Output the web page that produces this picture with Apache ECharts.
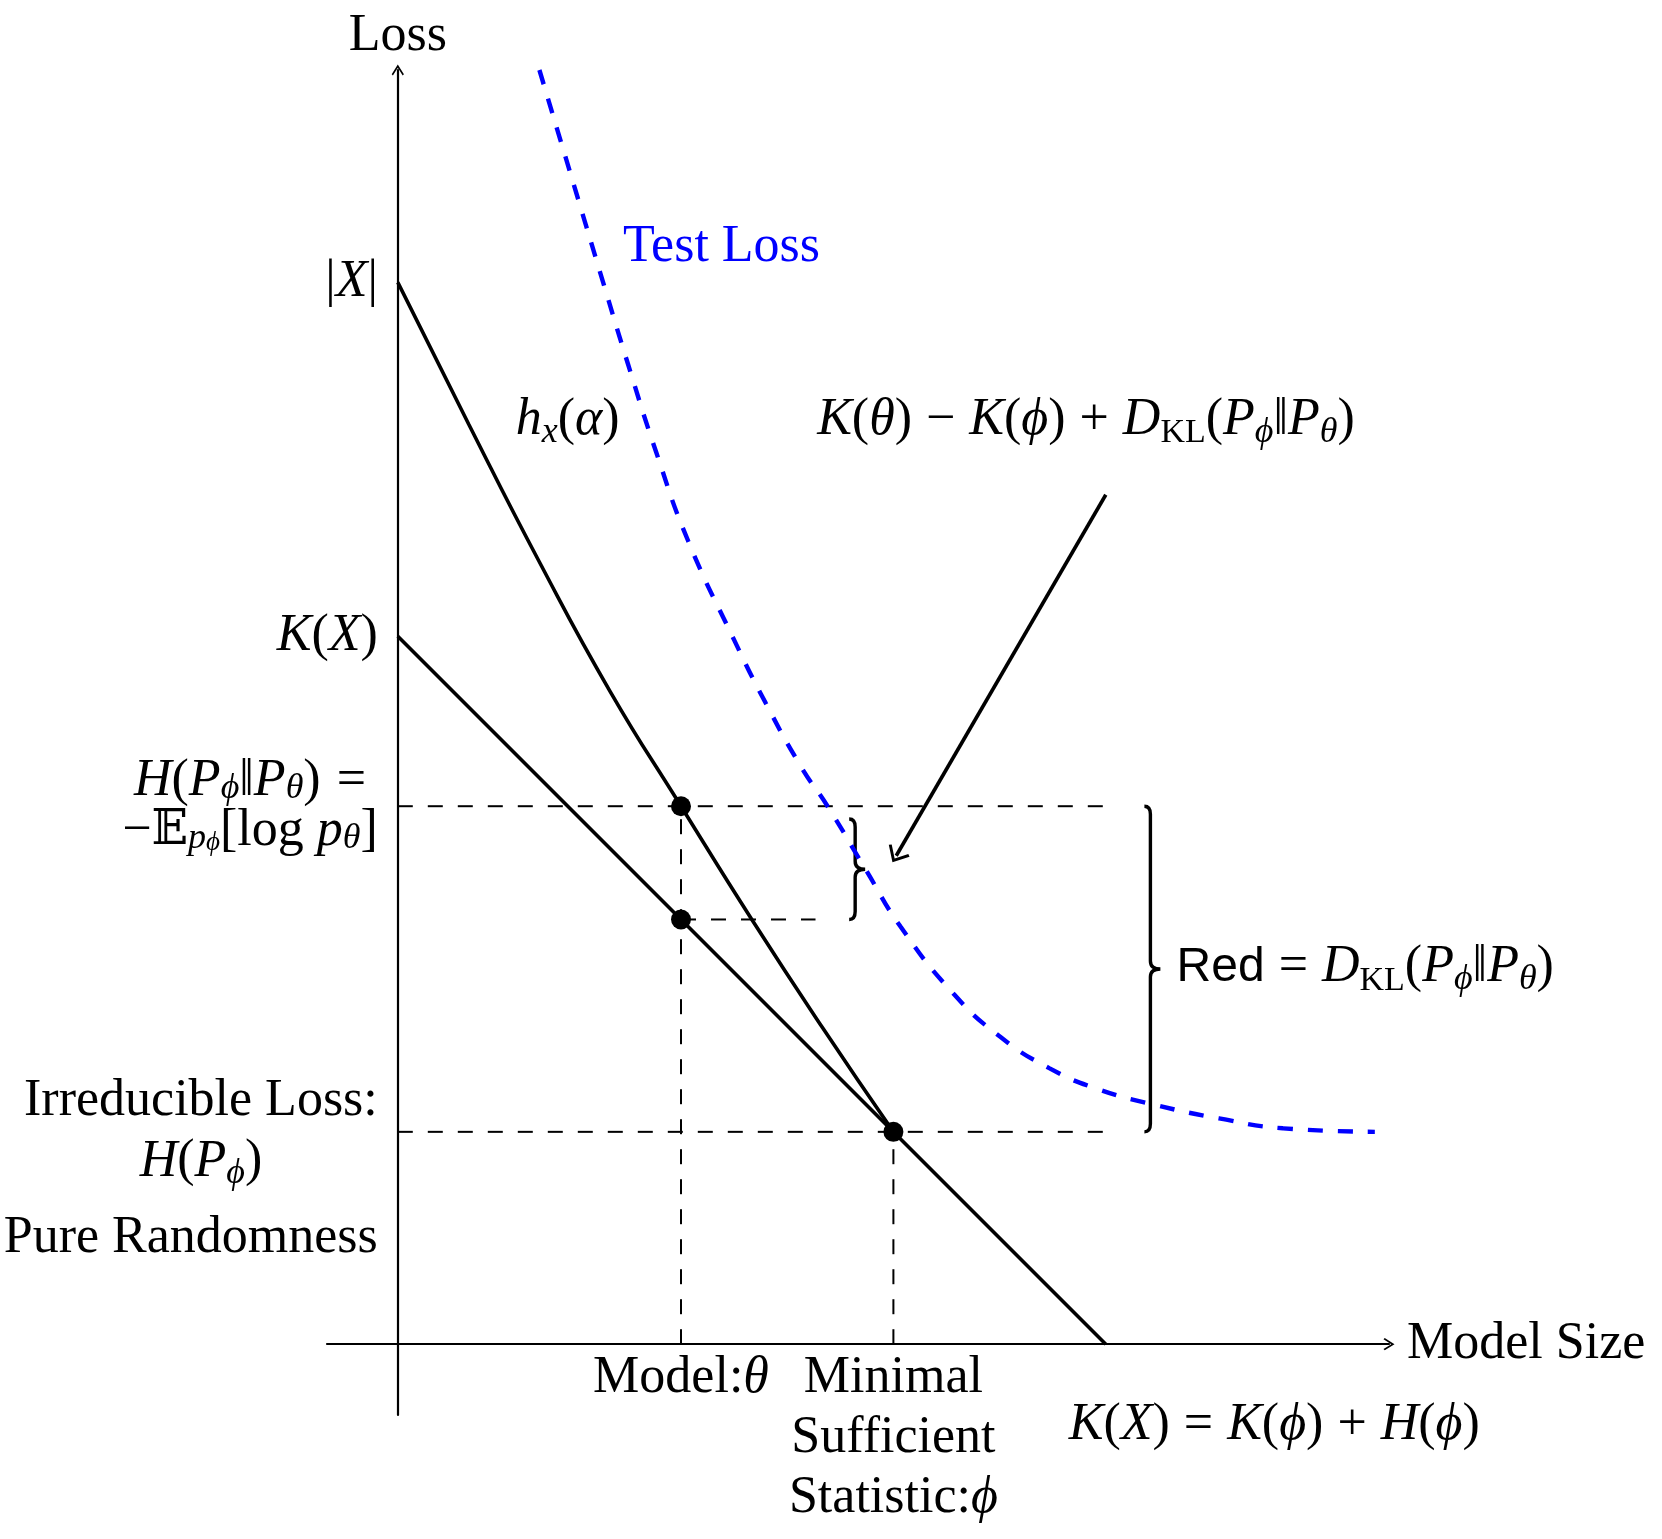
<!DOCTYPE html>
<html>
<head>
<meta charset="utf-8">
<script src="https://cdn.jsdelivr.net/npm/echarts@6/dist/echarts.min.js"></script>
<style>
  html, body { margin: 0; padding: 0; background: #fff; }
  #main { width: 1662px; height: 1539px; }
</style>
</head>
<body>
<div id="main"></div>
<script>
// ticks on the model size axis
var xTickValues = [4, 7];
var xTickLabels = ['{r|Model:}{i|θ}', '{r|Minimal}\n{r|Sufficient}\n{r|Statistic:}{i|ϕ}'];
// ticks on the loss axis
var yTickValues = [1.5, 3, 7.6, 10, 15];
var yTickLabels = [
  '{r|Pure Randomness}',
  '{r|Irreducible Loss:}\n{i|H}{r|(}{i|P}{sub|ϕ}{r|)}',
  '{hi|H}{hr|(}{hi|P}{hsub|ϕ}{hr|‖}{hi|P}{hsub|θ}{hr|)}{hop|=}\n{hr|−}{hbb|𝔼}{hsub|p}{hsub2|ϕ}{hr|[log }{hi|p}{hsub|θ}{hr|]}',
  '{i|K}{r|(}{i|X}{r|)}',
  '{r||}{i|X}{r||}'
];
// h_x(alpha) curve
var modelSize = [0, 1, 2, 3, 4, 5, 6, 7];
var modelLoss = [15, 13.0, 11.05, 9.22, 7.6, 6.0, 4.47, 3.0];
// K(X) line
var complexitySize = [0, 10];
var complexityLoss = [10, 0];
// test loss (blue dashed)
var testSize = [2.0, 2.3, 2.6, 2.9, 3.25, 3.65, 4.1, 4.75, 5.2, 5.7, 6.07, 6.6, 7.1, 7.85, 8.5, 9.2, 9.9, 10.7, 11.6, 12.5, 13.8];
var testLoss = [18.0, 17.0, 16.0, 15.0, 13.85, 12.6, 11.35, 9.95, 9.05, 8.15, 7.6, 6.72, 5.9, 4.95, 4.35, 3.9, 3.6, 3.38, 3.19, 3.05, 3.0];
// marked points
var pointSize = [4, 4, 7];
var pointLoss = [7.6, 6.0, 3.0];
// braces: x, top, bottom
var braceX = [10.63, 6.46];
var braceTop = [7.6, 7.42];
var braceBottom = [3.0, 6.0];

var serif = 'Liberation Serif';
var arrowHead = 'path://M5,0 L10,8 L9,9 L5,2.6 L1,9 L0,8 Z';
var unit = 1062 / 15; // px per data unit, used to put axes through the origin

function style(extra) {
  var s = { fontFamily: serif, fontSize: 52, lineHeight: 60, color: '#000', align: 'center', textBorderWidth: 0 };
  for (var k in extra) s[k] = extra[k];
  return s;
}
var rich = {
  r: style({}),
  i: style({ fontStyle: 'italic' }),
  op: style({ padding: [0, 14, 0, 14] }),
  b: style({ color: '#0000ff' }),
  s: style({ fontFamily: 'Liberation Sans', fontSize: 48 }),
  sub: style({ fontStyle: 'italic', fontSize: 36, lineHeight: 34, verticalAlign: 'bottom' }),
  subr: style({ fontSize: 34, lineHeight: 34, verticalAlign: 'bottom' }),
  hr: style({ lineHeight: 50 }),
  hi: style({ fontStyle: 'italic', lineHeight: 50 }),
  hop: style({ lineHeight: 50, padding: [0, 0, 0, 16] }),
  hbb: style({ fontFamily: 'DejaVu Serif', lineHeight: 50, fontSize: 48 }),
  hsub: style({ fontStyle: 'italic', fontSize: 36, lineHeight: 30, verticalAlign: 'bottom' }),
  hsub2: style({ fontStyle: 'italic', fontSize: 27, lineHeight: 20, verticalAlign: 'bottom' })
};

function lookup(values, labels) {
  return function (v) {
    for (var k = 0; k < values.length; k++) {
      if (Math.abs(values[k] - v) < 1e-6) return labels[k];
    }
    return '';
  };
}

function zip(xs, ys) {
  return xs.map(function (x, k) { return [x, ys[k]]; });
}

var guides = [
  [[0, pointLoss[0]], [10, pointLoss[0]]],
  [[0, pointLoss[2]], [10, pointLoss[2]]],
  [[pointSize[1], pointLoss[1]], [5.9, pointLoss[1]]],
  [[pointSize[0], 0], [pointSize[0], pointLoss[0]]],
  [[pointSize[2], 0], [pointSize[2], pointLoss[2]]]
];

var chart = echarts.init(document.getElementById('main'));

var series = [];
guides.forEach(function (seg) {
  series.push({
    type: 'line', data: seg, showSymbol: false, silent: true, z: 1,
    lineStyle: { color: '#000', width: 2, type: [15, 15] }
  });
});
series.push({
  type: 'line', data: zip(complexitySize, complexityLoss), showSymbol: false, silent: true, z: 3,
  lineStyle: { color: '#000', width: 3.6 }
});
series.push({
  type: 'line', data: zip(modelSize, modelLoss), smooth: 0.5,
  showSymbol: false, silent: true, z: 3,
  lineStyle: { color: '#000', width: 3.6 }
});
series.push({
  type: 'line', data: zip(testSize, testLoss), smooth: 0.5,
  showSymbol: false, silent: true, z: 4,
  lineStyle: { color: '#0000ff', width: 4.4, type: [15, 15] }
});
series.push({
  type: 'scatter', data: zip(pointSize, pointLoss), symbolSize: 20, silent: true, z: 5,
  itemStyle: { color: '#000', opacity: 1 }
});
// arrow pointing at the small brace
series.push({
  type: 'line', data: [], silent: true,
  markLine: {
    silent: true, animation: false,
    symbol: ['none', arrowHead], symbolSize: [24, 15],
    label: { show: false },
    lineStyle: { color: '#000', width: 3.6, type: 'solid', opacity: 1 },
    data: [[{ coord: [10, 12] }, { coord: [7.04, 6.9] }]]
  }
});
series.push({
  type: 'custom', silent: true, clip: false, z: 4,
  encode: { x: 0, y: [1, 2] },
  data: braceX.map(function (x, k) { return [x, braceTop[k], braceBottom[k]]; }),
  renderItem: function (params, api) {
    var top = api.coord([api.value(0), api.value(1)]);
    var bot = api.coord([api.value(0), api.value(2)]);
    var s = top[0], yT = top[1], yB = bot[1], yM = (yT + yB) / 2;
    var d = 'M' + (s - 6) + ',' + yT +
      ' Q' + s + ',' + yT + ' ' + s + ',' + (yT + 8) +
      ' L' + s + ',' + (yM - 8) +
      ' Q' + s + ',' + yM + ' ' + (s + 10) + ',' + yM +
      ' Q' + s + ',' + yM + ' ' + s + ',' + (yM + 8) +
      ' L' + s + ',' + (yB - 8) +
      ' Q' + s + ',' + yB + ' ' + (s - 6) + ',' + yB;
    return {
      type: 'path',
      shape: { pathData: d },
      style: { fill: 'none', stroke: '#000', lineWidth: 3.4 }
    };
  }
});
// text annotations
series.push({
  type: 'scatter', symbolSize: 1, silent: true, clip: false, z: 6,
  itemStyle: { color: 'rgba(0,0,0,0)', opacity: 1 },
  label: {
    show: true, position: 'inside', rich: rich, color: '#000', textBorderWidth: 0, opacity: 1,
    formatter: function (p) { return p.name; }
  },
  data: [
    { name: '{b|Test Loss}', value: [3.18, 15.49], label: { align: 'left' } },
    { name: '{i|h}{sub|x}{r|(}{i|α}{r|)}', value: [2.4, 13.05] },
    { name: '{i|K}{r|(}{i|θ}{r|)}{op|−}{i|K}{r|(}{i|ϕ}{r|)}{op|+}{i|D}{subr|KL}{r|(}{i|P}{sub|ϕ}{r|‖}{i|P}{sub|θ}{r|)}', value: [9.72, 13.05] },
    { name: '{s|Red}{op|=}{i|D}{subr|KL}{r|(}{i|P}{sub|ϕ}{r|‖}{i|P}{sub|θ}{r|)}', value: [11.0, 5.32], label: { align: 'left' } },
    { name: '{i|K}{r|(}{i|X}{r|)}{op|=}{i|K}{r|(}{i|ϕ}{r|)}{op|+}{i|H}{r|(}{i|ϕ}{r|)}', value: [12.38, -1.14] }
  ]
});

var option = {
  animation: false,
  backgroundColor: '#fff',
  grid: { left: 327, top: 70, width: 1062, height: 1345, outerBoundsMode: 'none' },
  xAxis: {
    type: 'value', min: -1, max: 14, offset: -unit,
    axisLine: { onZero: false, symbol: ['none', arrowHead], symbolSize: [18, 11], lineStyle: { color: '#000', width: 2.2 } },
    axisTick: { show: false },
    splitLine: { show: false },
    axisLabel: { customValues: xTickValues, formatter: lookup(xTickValues, xTickLabels), margin: 4, rich: rich, color: '#000' },
    name: 'Model Size', nameLocation: 'end', nameGap: 18,
    nameTextStyle: { fontFamily: serif, fontSize: 52, color: '#000' }
  },
  yAxis: {
    type: 'value', min: -1, max: 18, offset: -unit,
    axisLine: { onZero: false, symbol: ['none', arrowHead], symbolSize: [18, 11], lineStyle: { color: '#000', width: 2.2 } },
    axisTick: { show: false },
    splitLine: { show: false },
    axisLabel: { customValues: yTickValues, formatter: lookup(yTickValues, yTickLabels), margin: 20, rich: rich, color: '#000' },
    name: 'Loss', nameLocation: 'end', nameGap: 8,
    nameTextStyle: { fontFamily: serif, fontSize: 52, color: '#000' }
  },
  series: series
};
chart.setOption(option);
</script>
</body>
</html>
